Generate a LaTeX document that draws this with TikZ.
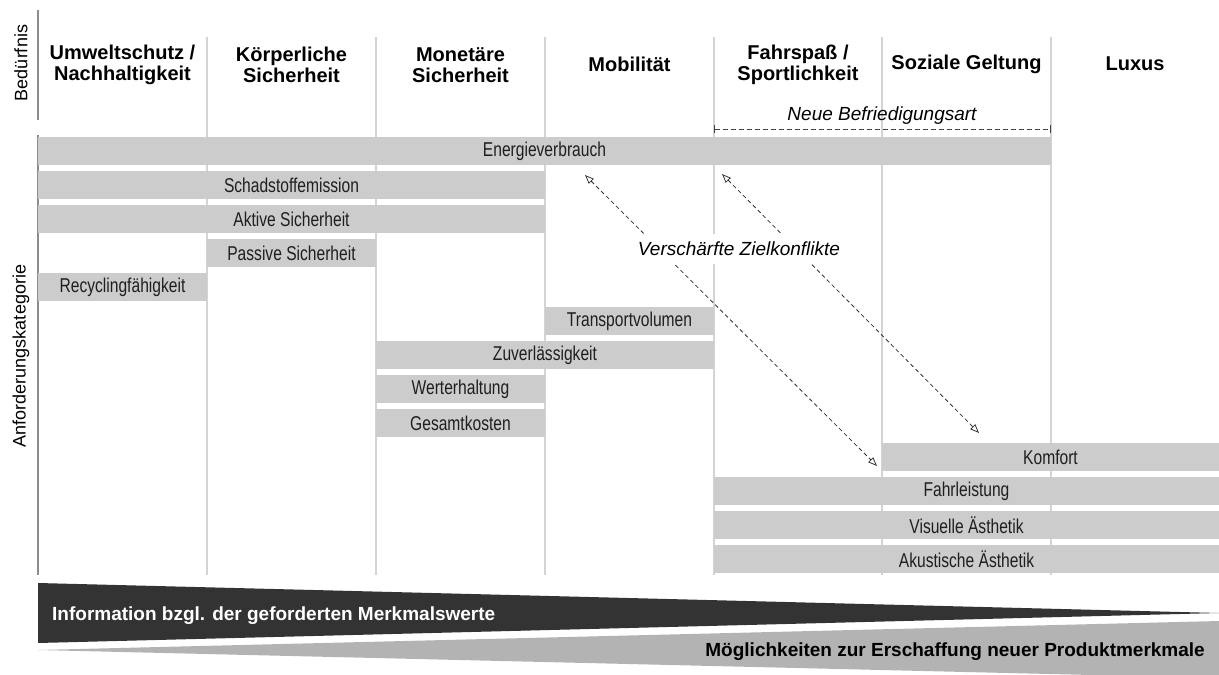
\documentclass[tikz,border=0pt]{standalone}
\usepackage{fontspec}
\setmainfont{Liberation Sans}
\newfontfamily\narrowfont[FakeStretch=0.78]{Liberation Sans}
\usetikzlibrary{arrows.meta}

\definecolor{barfill}{HTML}{CCCCCC}
\definecolor{gridline}{HTML}{D4D4D4}
\definecolor{axisline}{HTML}{8C8C8C}
\definecolor{darkwedge}{HTML}{333333}
\definecolor{lightwedge}{HTML}{B3B3B3}
\definecolor{conflictline}{HTML}{333333}

% one requirement bar: name, left x, right x, centre y, label
\newcommand\barnode[5]{%
  \node[reqbar, minimum width={#3-#2}] (#1) at ({(#2+#3)/2},#4) {#5};}

\begin{document}
\begin{tikzpicture}[x=1pt,y=-1pt,
  reqbar/.style={fill=barfill, inner sep=0pt, minimum height=28pt,
    font=\narrowfont\fontsize{20}{22}\selectfont, text=black!88},
  colhead/.style={font=\bfseries\fontsize{20}{21}\selectfont, align=center,
    inner sep=0pt},
  axislabel/.style={font=\fontsize{18}{20}\selectfont, rotate=90, inner sep=0pt},
  italiclabel/.style={font=\itshape\fontsize{19}{21}\selectfont},
  gridrule/.style={draw=gridline, line width=1.5pt},
  axisrule/.style={draw=axisline, line width=1.5pt},
  conflict/.style={draw=conflictline, line width=0.8pt,
    dash pattern=on 4pt off 3pt,
    {Triangle[open, length=9pt, width=7pt]}-{Triangle[open, length=9pt, width=7pt]}},
  bracket/.style={draw=black!75, line width=0.8pt, dash pattern=on 5pt off 3pt,
    {Bar[width=8pt, line width=0.8pt]}-{Bar[width=8pt, line width=0.8pt]}},
  wedgetext/.style={font=\bfseries\fontsize{19}{21}\selectfont, inner sep=0pt}
]
\useasboundingbox (0,0) rectangle (1219,675);

% column rules and left axis
\foreach \x in {207,376,545,714,882,1051}
  \draw[gridrule] (\x,37) -- (\x,575);
\draw[axisrule] (38,10) -- (38,120);
\draw[axisrule] (38,135) -- (38,575);

% axis captions
\node[axislabel] (lblneed) at (21,63) {Bedürfnis};
\node[axislabel] (lblcat) at (21,356) {Anforderungskategorie};

% column headers
\node[colhead] (h1) at (122.5,65) {Umweltschutz /\\Nachhaltigkeit};
\node[colhead] (h2) at (291.5,65) {Körperliche\\Sicherheit};
\node[colhead] (h3) at (460.5,65) {Monetäre\\Sicherheit};
\node[colhead] (h4) at (629.5,64) {Mobilität};
\node[colhead] (h5) at (798,65) {Fahrspaß /\\Sportlichkeit};
\node[colhead] (h6) at (966.5,64) {Soziale Geltung};
\node[colhead] (h7) at (1135,64) {Luxus};

% new kind of satisfaction
\coordinate (nbl) at (714,129);
\coordinate (nbr) at (1051,129);
\draw[bracket] (nbl) -- (nbr);
\node[italiclabel] (newsat) at (882,116) {Neue Befriedigungsart};

% requirement bars
\barnode{energie}{38}{1051}{151}{Energieverbrauch}
\barnode{schadstoff}{38}{545}{185}{Schadstoffemission}
\barnode{aktiv}{38}{545}{219}{Aktive Sicherheit}
\barnode{passiv}{207}{376}{253}{Passive Sicherheit}
\barnode{recycling}{38}{207}{287}{Recyclingfähigkeit}
\barnode{transport}{545}{714}{321}{Transportvolumen}
\barnode{zuverl}{376}{714}{355}{Zuverlässigkeit}
\barnode{wert}{376}{545}{389}{Werterhaltung}
\barnode{kosten}{376}{545}{423}{Gesamtkosten}
\barnode{komfort}{882}{1219}{457}{Komfort}
\barnode{fahrl}{714}{1219}{491}{Fahrleistung}
\barnode{visuell}{714}{1219}{525}{Visuelle Ästhetik}
\barnode{akustik}{714}{1219}{559}{Akustische Ästhetik}

% sharpened goal conflicts
\coordinate (ca1) at (585,175);
\coordinate (ca2) at (877,466);
\coordinate (cb1) at (722,174);
\coordinate (cb2) at (979,433);
\draw[conflict] (ca1) -- (ca2);
\draw[conflict] (cb1) -- (cb2);
\node[italiclabel, fill=white, inner xsep=3pt, inner ysep=8pt] (conflicts)
  at (739,249) {Verschärfte Zielkonflikte};

% information and possibilities wedges
\fill[darkwedge] (38,583) -- (1219,613) -- (38,643) -- cycle;
\fill[lightwedge] (38,650) -- (1219,621) -- (1219,675) -- (1092,675) -- cycle;
\node[wedgetext, text=white, anchor=base west] (info) at (52,620)
  {Information bzgl. der geforderten Merkmalswerte};
\node[wedgetext, text=black, anchor=base east] (poss) at (1205,656)
  {Möglichkeiten zur Erschaffung neuer Produktmerkmale};
\end{tikzpicture}
\end{document}
